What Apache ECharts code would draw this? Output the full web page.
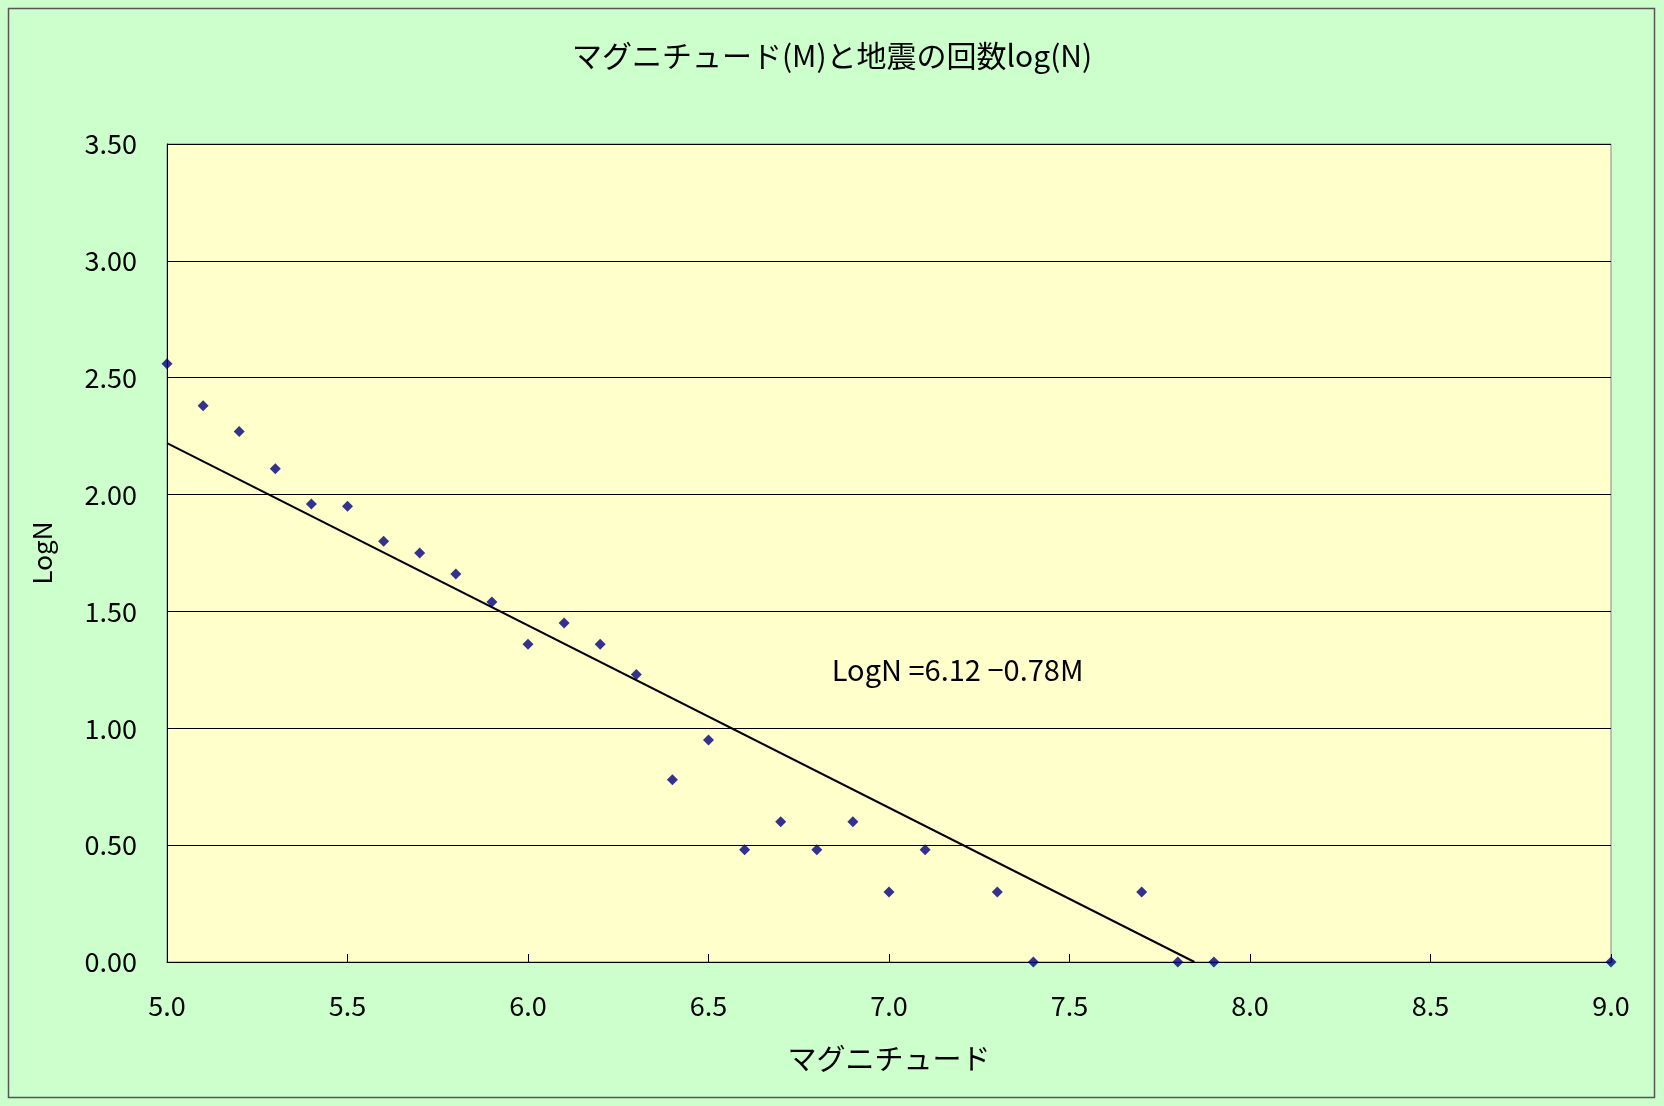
<!DOCTYPE html>
<html><head><meta charset="utf-8">
<script src="https://cdn.jsdelivr.net/npm/echarts@6/dist/echarts.min.js"></script>
<style>html,body{margin:0;padding:0;background:#fff}#c{width:1664px;height:1106px}</style>
</head><body><div id="c"></div>
<script>
const magnitudes=[5.0,5.1,5.2,5.3,5.4,5.5,5.6,5.7,5.8,5.9,6.0,6.1,6.2,6.3,6.4,6.5,6.6,6.7,6.8,6.9,7.0,7.1,7.3,7.4,7.7,7.8,7.9,9.0];
const logN=[2.56,2.38,2.27,2.11,1.96,1.95,1.80,1.75,1.66,1.54,1.36,1.45,1.36,1.23,0.78,0.95,0.48,0.60,0.48,0.60,0.30,0.48,0.30,0.00,0.30,0.00,0.00,0.00];
const fitA=6.12, fitB=0.78;
const fitLine=[[5.0,fitA-fitB*5.0],[fitA/fitB,0]];
const font='"Noto Sans CJK JP", sans-serif';
const chart=echarts.init(document.getElementById('c'));
chart.setOption({
  backgroundColor:'#ccffcc',
  animation:false,
  graphic:[{type:'rect',shape:{x:8.5,y:8.5,width:1646,height:1089},style:{fill:'none',stroke:'#555',lineWidth:1.5},silent:true}],
  title:{text:'マグニチュード(M)と地震の回数log(N)',left:'center',top:36,textStyle:{fontFamily:font,fontSize:30,fontWeight:'normal',color:'#000'}},
  grid:{left:167,right:53,top:144,bottom:144,backgroundColor:'#ffffcc',show:true,borderColor:'#888',borderWidth:1},
  xAxis:{type:'value',min:5,max:9,interval:0.5,name:'マグニチュード',nameLocation:'middle',nameGap:82,
    nameTextStyle:{fontFamily:font,fontSize:29,color:'#000'},
    axisLine:{lineStyle:{color:'#000'}},axisTick:{show:true,inside:true,length:8,lineStyle:{color:'#000'}},
    axisLabel:{fontFamily:font,fontSize:27,color:'#000',margin:30,formatter:v=>v.toFixed(1)},splitLine:{show:false}},
  yAxis:{type:'value',min:0,max:3.5,interval:0.5,name:'LogN',nameLocation:'middle',nameGap:112,
    nameTextStyle:{fontFamily:font,fontSize:26,color:'#000'},
    axisLine:{show:true,lineStyle:{color:'#000'}},axisTick:{show:false},
    axisLabel:{fontFamily:font,fontSize:27,color:'#000',margin:30,formatter:v=>v.toFixed(2)},
    splitLine:{lineStyle:{color:'#000',width:1}}},
  series:[
    {type:'scatter',data:magnitudes.map((m,i)=>[m,logN[i]]),symbol:'diamond',symbolSize:11,itemStyle:{color:'#000080'},z:3},
    {type:'line',data:fitLine,symbol:'none',lineStyle:{color:'#000',width:2},z:2},
    {type:'scatter',data:[[7.19,1.25]],symbolSize:0,silent:true,
     label:{show:true,position:'inside',formatter:'LogN =6.12 −0.78M',fontFamily:font,fontSize:29,color:'#000',opacity:1}}
  ]
});
</script></body></html>
